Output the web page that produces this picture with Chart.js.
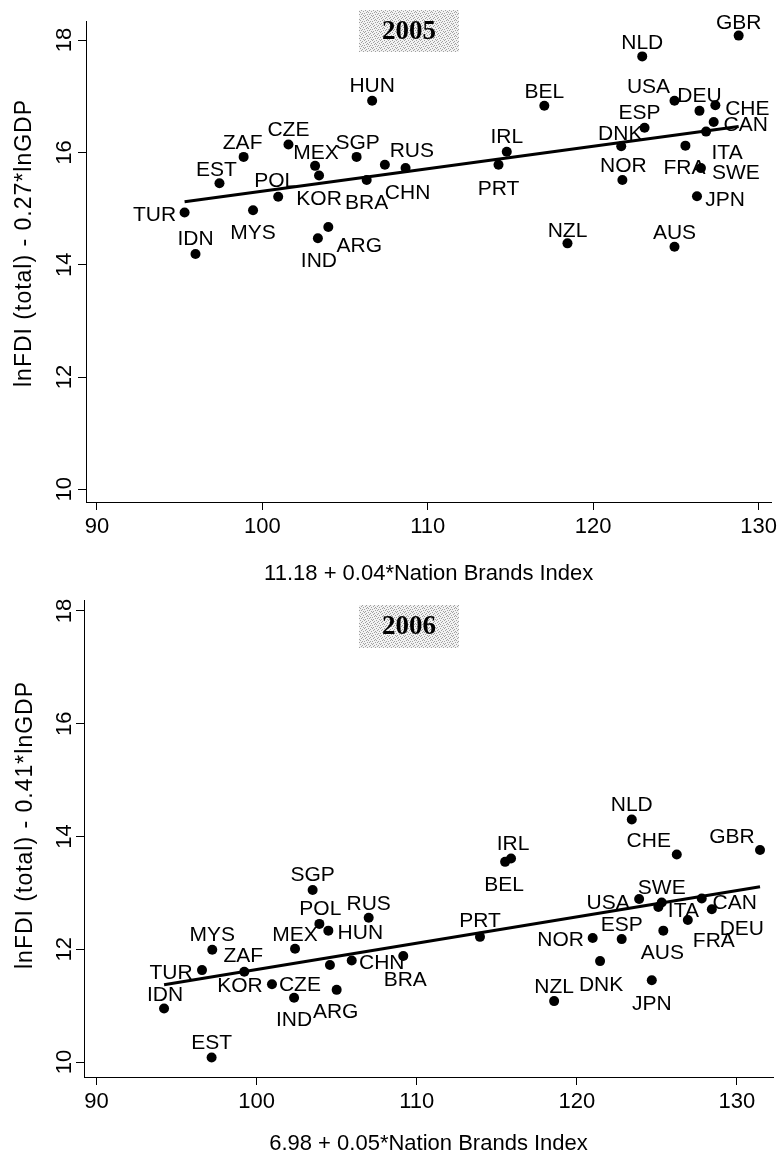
<!DOCTYPE html>
<html>
<head>
<meta charset="utf-8">
<title>lnFDI vs Nation Brands Index, 2005 and 2006</title>
<script src="https://cdn.jsdelivr.net/npm/chart.js@4.4.1/dist/chart.umd.min.js"></script>
<style>
  html, body { margin: 0; padding: 0; background: #fff; }
  .panel { position: absolute; left: 0; width: 781px; }
  #p1 { top: 0; height: 580px; }
  #p2 { top: 580px; height: 572px; }
</style>
</head>
<body>
<div class="panel" id="p1"><canvas id="c1" width="781" height="580"></canvas></div>
<div class="panel" id="p2"><canvas id="c2" width="781" height="572"></canvas></div>
<script>
/* ---- DATA --------------------------------------------------- */
const xTicks = [90, 100, 110, 120, 130];
const yTicks = [10, 12, 14, 16, 18];

const countries = ['TUR','IDN','EST','ZAF','MYS','POL','CZE','MEX','KOR','IND','ARG','SGP','BRA','HUN','RUS','CHN',
                   'IRL','PRT','BEL','NZL','DNK','NOR','NLD','USA','ESP','DEU','CHE','CAN','ITA','FRA','SWE','JPN','AUS','GBR'];

// 2005
const nbi05 = [95.30, 95.96, 97.41, 98.87, 99.44, 100.96, 101.58, 103.19, 103.43, 103.36, 103.99, 105.70, 106.31, 106.64, 107.41, 108.66,
               114.78, 114.28, 117.05, 118.45, 121.70, 121.77, 122.97, 124.92, 123.11, 126.43, 127.39, 127.29, 126.83, 125.58, 126.52, 126.28, 124.92, 128.80];
const fdi05 = [14.93, 14.19, 15.45, 15.92, 14.97, 15.21, 16.14, 15.76, 15.59, 14.47, 14.67, 15.92, 15.51, 16.92, 15.78, 15.72,
               16.01, 15.78, 16.83, 14.38, 16.11, 15.51, 17.71, 16.92, 16.44, 16.74, 16.84, 16.54, 16.37, 16.12, 15.72, 15.22, 14.32, 18.08];
const fit05X = [95.30, 128.80];
const fit05Y = [15.12, 16.46];

// 2006
const nbi06 = [96.59, 94.22, 97.19, 99.23, 97.23, 103.92, 104.58, 102.40, 100.96, 102.34, 105.00, 103.50, 109.16, 104.48, 107.00, 105.94,
               115.89, 113.95, 115.52, 118.58, 121.45, 120.99, 123.43, 123.89, 122.80, 128.43, 126.24, 127.80, 125.09, 126.93, 125.30, 124.68, 125.40, 131.44];
const fdi06 = [11.63, 10.95, 10.08, 11.60, 11.99, 12.45, 11.72, 12.01, 11.38, 11.14, 11.28, 13.05, 11.88, 12.33, 12.56, 11.80,
               13.61, 12.22, 13.55, 11.08, 11.79, 12.20, 14.30, 12.89, 12.18, 12.71, 13.68, 12.90, 12.75, 12.52, 12.83, 11.45, 12.33, 13.76];
const fit06X = [94.22, 131.44];
const fit06Y = [11.37, 13.11];

/* ---- LABEL PLACEMENT (px from marker to label centre) ------- */
const lab05 = {
  TUR: [-30, 1], IDN: [0, -17], EST: [-3, -15], ZAF: [-1, -15], MYS: [0, 21], POL: [-3, -17], CZE: [0, -16], MEX: [1, -14],
  KOR: [0, 22], IND: [1, 21], ARG: [31, 17], SGP: [1, -15], BRA: [0, 22], HUN: [0, -16], RUS: [27, -15], CHN: [2, 23],
  IRL: [0, -16], PRT: [0, 23], BEL: [0, -15], NZL: [0, -14], DNK: [-1, -14], NOR: [1, -15], NLD: [0, -15], USA: [-26, -15],
  ESP: [-5, -16], DEU: [0, -16], CHE: [32, 2], CAN: [32, 1], ITA: [21, 20], FRA: [-1, 21], SWE: [35, 3], JPN: [28, 2],
  AUS: [0, -15], GBR: [0, -14]
};
const lab06 = {
  TUR: [-31, 1], IDN: [1, -15], EST: [0, -16], ZAF: [-1, -17], MYS: [0, -16], POL: [1, -16], CZE: [-30, 18], MEX: [0, -15],
  KOR: [-32, 0], IND: [0, 21], ARG: [-1, 21], SGP: [0, -17], BRA: [2, 22], HUN: [32, 1], RUS: [0, -15], CHN: [30, 1],
  IRL: [2, -16], PRT: [0, -17], BEL: [-1, 22], NZL: [0, -16], DNK: [1, 22], NOR: [-32, 1], NLD: [0, -16], USA: [-31, 2],
  ESP: [0, -16], DEU: [30, 18], CHE: [-28, -15], CAN: [33, 3], ITA: [25, 3], FRA: [26, 20], SWE: [0, -16], JPN: [0, 22],
  AUS: [-1, 21], GBR: [-28, -15]
};

const FONT = '"Liberation Sans", Arial, Helvetica, sans-serif';
const INK = '#000';

/* ---- STIPPLE for the year boxes ----------------------------- */
const stipple = document.createElement('canvas');
stipple.width = stipple.height = 8;
(function () {
  const g = stipple.getContext('2d');
  g.fillStyle = '#f2f2f2';
  g.fillRect(0, 0, 8, 8);
  const rows = ['10001000', '00100010', '01000100', '00010001', '10000010', '00101000', '01000001', '00010100'];
  g.fillStyle = '#a0a0a0';
  rows.forEach((r, y) => [...r].forEach((c, x) => { if (c === '1') g.fillRect(x, y, 1, 1); }));
})();

/* ---- PLUGINS ------------------------------------------------ */
const markerLabels = {
  id: 'markerLabels',
  afterDatasetsDraw(chart, args, o) {
    const ctx = chart.ctx;
    const meta = chart.getDatasetMeta(0);
    ctx.save();
    ctx.font = `21px ${FONT}`;
    ctx.fillStyle = INK;
    ctx.textAlign = 'center';
    ctx.textBaseline = 'alphabetic';
    meta.data.forEach((pt, i) => {
      const name = o.names[i];
      const off = o.offsets[name] || [0, -15];
      ctx.fillText(name, pt.x + off[0], pt.y + off[1] + 7.5);
    });
    ctx.restore();
  }
};

const axisText = {
  id: 'axisText',
  afterDraw(chart, args, o) {
    const ctx = chart.ctx, ys = chart.scales.y, xs = chart.scales.x;
    ctx.save();
    ctx.fillStyle = INK;
    ctx.textAlign = 'center';
    ctx.textBaseline = 'alphabetic';
    // rotated y tick labels
    ctx.font = `22px ${FONT}`;
    ys.ticks.forEach(t => {
      ctx.save();
      ctx.translate(o.yTickX, ys.getPixelForValue(t.value));
      ctx.rotate(-Math.PI / 2);
      ctx.fillText(String(t.value), 0, 7.8);
      ctx.restore();
    });
    // y title
    ctx.font = `23px ${FONT}`;
    ctx.letterSpacing = '1px';
    ctx.save();
    ctx.translate(o.yTitleX, o.yTitleY);
    ctx.rotate(-Math.PI / 2);
    ctx.fillText(o.yTitle, 0, 8);
    ctx.restore();
    ctx.letterSpacing = '0px';
    // x title
    ctx.font = `22px ${FONT}`;
    ctx.fillText(o.xTitle, (xs.left + xs.right) / 2, o.xTitleY + 8);
    ctx.restore();
  }
};

const yearBox = {
  id: 'yearBox',
  afterDraw(chart, args, o) {
    const ctx = chart.ctx;
    ctx.save();
    ctx.fillStyle = ctx.createPattern(stipple, 'repeat');
    ctx.fillRect(o.x, o.y, o.w, o.h);
    ctx.font = 'bold 27px "Liberation Serif", "Times New Roman", serif';
    ctx.fillStyle = INK;
    ctx.textAlign = 'center';
    ctx.textBaseline = 'middle';
    ctx.fillText(o.text, o.x + o.w / 2, o.y + o.h / 2 + 1);
    ctx.restore();
  }
};

/* ---- CHART -------------------------------------------------- */
function makeChart(id, c) {
  const axisLook = {
    grid: { drawOnChartArea: false, drawTicks: true, tickLength: 8, color: INK, lineWidth: 1 },
    border: { color: INK, width: 1 }
  };
  return new Chart(document.getElementById(id), {
    type: 'scatter',
    data: {
      datasets: [
        {
          data: c.x.map((v, i) => ({ x: v, y: c.y[i] })),
          pointRadius: 5,
          pointBackgroundColor: INK,
          pointBorderColor: INK,
          pointBorderWidth: 0
        },
        {
          type: 'line',
          data: c.fitX.map((v, i) => ({ x: v, y: c.fitY[i] })),
          borderColor: INK,
          borderWidth: 3,
          pointRadius: 0,
          fill: false,
          tension: 0
        }
      ]
    },
    options: {
      responsive: false,
      animation: false,
      events: [],
      layout: { padding: c.pad },
      plugins: {
        legend: { display: false },
        tooltip: { enabled: false },
        markerLabels: { names: countries, offsets: c.labels },
        axisText: { yTitle: c.yTitle, xTitle: c.xTitle, yTickX: 63, yTitleX: c.yTitleX, yTitleY: c.yTitleY, xTitleY: c.xTitleY },
        yearBox: c.box
      },
      scales: {
        x: {
          type: 'linear', min: c.xMin, max: c.xMax,
          afterBuildTicks: s => { s.ticks = xTicks.map(v => ({ value: v })); },
          afterFit: s => { s.height = c.xH; },
          ticks: { color: INK, font: { family: FONT, size: 22 }, padding: 4, maxRotation: 0, autoSkip: false },
          ...axisLook
        },
        y: {
          type: 'linear', min: c.yMin, max: c.yMax,
          afterBuildTicks: s => { s.ticks = yTicks.map(v => ({ value: v })); },
          afterFit: s => { s.width = c.yW; },
          ticks: { display: false },
          ...axisLook
        }
      }
    },
    plugins: [markerLabels, axisText, yearBox]
  });
}

makeChart('c1', {
  x: nbi05, y: fdi05, fitX: fit05X, fitY: fit05Y, labels: lab05,
  xMin: 89.34, xMax: 130.78, yMin: 9.774, yMax: 18.34,
  pad: { top: 21, right: 7, left: 0, bottom: 0 }, yW: 86, xH: 78,
  yTitle: 'lnFDI (total) - 0.27*lnGDP', xTitle: '11.18 + 0.04*Nation Brands Index',
  yTitleX: 23, yTitleY: 243, xTitleY: 572,
  box: { x: 359, y: 10, w: 100, h: 42, text: '2005' }
});

makeChart('c2', {
  x: nbi06, y: fdi06, fitX: fit06X, fitY: fit06Y, labels: lab06,
  xMin: 89.22, xMax: 132.25, yMin: 9.734, yMax: 18.195,
  pad: { top: 20, right: 8, left: 0, bottom: 0 }, yW: 84, xH: 75,
  yTitle: 'lnFDI (total) - 0.41*lnGDP', xTitle: '6.98 + 0.05*Nation Brands Index',
  yTitleX: 24, yTitleY: 245, xTitleY: 562,
  box: { x: 359, y: 25, w: 100, h: 43, text: '2006' }
});
</script>
</body>
</html>
